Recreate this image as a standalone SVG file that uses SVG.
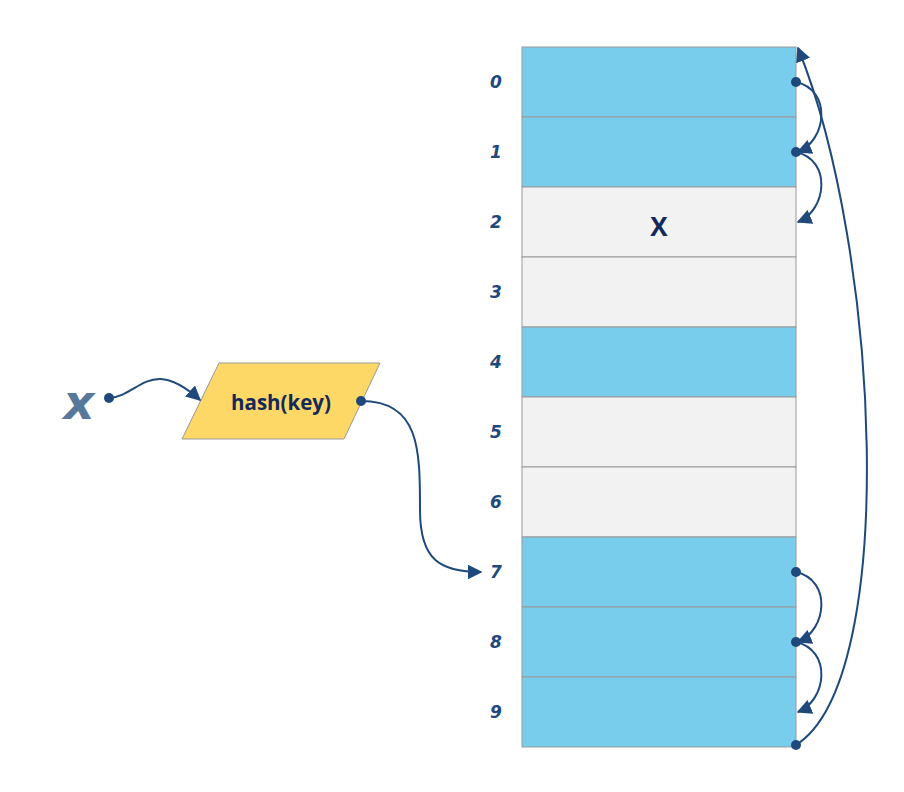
<svg xmlns="http://www.w3.org/2000/svg" width="904" height="792" viewBox="0 0 904 792">
<defs>
<marker id="arr" viewBox="0 0 10 10" refX="9" refY="5" markerWidth="15" markerHeight="15" markerUnits="userSpaceOnUse" orient="auto">
<path d="M0,0 L10,5 L0,10 z" fill="#1F497D"/>
</marker>
<style>
.blue{fill:#78CDEC;stroke:#999999;stroke-width:1}
.gray{fill:#F2F2F2;stroke:#999999;stroke-width:1}
.idx{font-family:"DejaVu Sans",sans-serif;font-weight:bold;font-style:italic;font-size:17px;fill:#1F497D;text-anchor:middle}
.conn{fill:none;stroke:#1F497D;stroke-width:2;marker-end:url(#arr)}
.dot{fill:#1F497D}
</style>
</defs>
<rect width="904" height="792" fill="#ffffff"/>
<g id="table">
<rect class="blue" x="522" y="47" width="274" height="70"/>
<rect class="blue" x="522" y="117" width="274" height="70"/>
<rect class="gray" x="522" y="187" width="274" height="70"/>
<rect class="gray" x="522" y="257" width="274" height="70"/>
<rect class="blue" x="522" y="327" width="274" height="70"/>
<rect class="gray" x="522" y="397" width="274" height="70"/>
<rect class="gray" x="522" y="467" width="274" height="70"/>
<rect class="blue" x="522" y="537" width="274" height="70"/>
<rect class="blue" x="522" y="607" width="274" height="70"/>
<rect class="blue" x="522" y="677" width="274" height="70"/>
<text x="659" y="236" font-family="'Open Sans','DejaVu Sans',sans-serif" font-weight="bold" font-size="26" fill="#14285A" text-anchor="middle">X</text>
</g>
<g id="indices">
<text class="idx" x="496" y="88">0</text>
<text class="idx" x="496" y="158">1</text>
<text class="idx" x="496" y="228">2</text>
<text class="idx" x="496" y="298">3</text>
<text class="idx" x="496" y="368">4</text>
<text class="idx" x="496" y="438">5</text>
<text class="idx" x="496" y="508">6</text>
<text class="idx" x="496" y="578">7</text>
<text class="idx" x="496" y="648">8</text>
<text class="idx" x="496" y="718">9</text>
</g>
<g id="x-label">
<text x="79" y="419" font-family="'DejaVu Sans',sans-serif" font-weight="bold" font-style="italic" font-size="48" fill="#56789A" text-anchor="middle">x</text>
</g>
<g id="hash">
<polygon points="219,363 380,363 344,439 182,439" fill="#FDD866" stroke="#999999" stroke-width="1"/>
<text x="281" y="410" font-family="'Open Sans','DejaVu Sans',sans-serif" font-weight="bold" font-size="20.5" fill="#14285A" text-anchor="middle">hash(key)</text>
</g>
<g id="connectors">
<path class="conn" d="M109,398 C140,396 150,355 200,400"/>
<path class="conn" d="M361,401 C420,401 420,450 420,510 C420,560 440,572 481,572"/>
<path class="conn" d="M796,82 C832,90 827,140 798,152"/>
<path class="conn" d="M796,152 C832,160 827,210 798,222"/>
<path class="conn" d="M796,572 C832,580 827,630 798,642"/>
<path class="conn" d="M796,642 C832,650 827,700 798,712"/>
<path class="conn" d="M796,745 C900,680 880,250 798,48"/>
<circle class="dot" cx="109" cy="398" r="5"/>
<circle class="dot" cx="361" cy="401" r="5"/>
<circle class="dot" cx="796" cy="82" r="5"/>
<circle class="dot" cx="796" cy="152" r="5"/>
<circle class="dot" cx="796" cy="572" r="5"/>
<circle class="dot" cx="796" cy="642" r="5"/>
<circle class="dot" cx="796" cy="745" r="5"/>
</g>
</svg>
